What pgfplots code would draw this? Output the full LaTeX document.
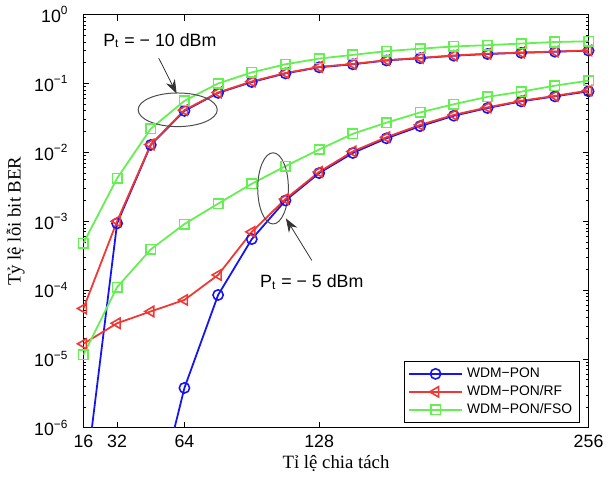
\documentclass[border=0pt]{standalone}
\usepackage{fontspec}
\setmainfont{Liberation Serif}
\newfontfamily\arial{Liberation Sans}
\usepackage{pgfplots}
\pgfplotsset{compat=1.18}
\usetikzlibrary{arrows.meta}
\definecolor{cblue}{RGB}{20,20,245}
\definecolor{cred}{RGB}{240,55,50}
\definecolor{cgreen}{RGB}{100,240,80}

\begin{document}
\begin{tikzpicture}
\begin{axis}[
  scale only axis,
  width=255.5pt,height=209pt,
  xmode=normal, ymode=log,
  xmin=16,xmax=256,
  ymin=1e-6,ymax=1,
  xtick={16,32,64,128,256},
  xticklabels={16,32,64,128,256},
  ytick={1e-6,1e-5,1e-4,1e-3,1e-2,1e-1,1},
  yticklabels={10\textsuperscript{−6},10\textsuperscript{−5},10\textsuperscript{−4},10\textsuperscript{−3},10\textsuperscript{−2},10\textsuperscript{−1},10\textsuperscript{0}},
  tick label style={font=\arial\fontsize{9}{10}\selectfont},
  yticklabel style={xshift=-4pt},
  major tick length=3pt,
  minor tick length=1.5pt,
  tick style={black,line width=0.4pt},
  axis line style={black,line width=0.5pt},
  xlabel={Tỉ lệ chia tách},
  ylabel={Tỷ lệ lỗi bit BER},
  label style={font=\fontsize{9.5}{11}\selectfont},
  xlabel style={yshift=3pt},
  ylabel style={yshift=-2pt},
  legend style={at={(rel axis cs:0.984,0.012)},anchor=south east,
    font=\arial\fontsize{7}{8}\selectfont,draw=black,line width=0.5pt,
    inner xsep=2pt,inner ysep=1pt,row sep=-1.4pt},
  legend cell align=left,
  legend image code/.code={\draw[mark repeat=2,mark phase=2,#1] plot coordinates {(0pt,0pt) (13.5pt,0pt) (27pt,0pt)};},
  every axis plot/.append style={line width=0.9pt},
]
% P_t = -10 dBm
\addplot[cblue,mark=o,mark size=2.6pt,mark options={line width=0.8pt}] coordinates {
  (16,1e-7) (32,9.3e-4) (48,0.0128) (64,0.040) (80,0.073) (96,0.105)
  (112,0.140) (128,0.172) (144,0.190) (160,0.216) (176,0.233) (192,0.253)
  (208,0.268) (224,0.279) (240,0.289) (256,0.300)
};
\addlegendentry{WDM−PON}
\addplot[cred,mark=triangle,mark size=3pt,mark options={rotate=90,line width=0.8pt}] coordinates {
  (16,5.4e-5) (32,1.0e-3) (48,0.013) (64,0.041) (80,0.074) (96,0.107)
  (112,0.142) (128,0.174) (144,0.192) (160,0.218) (176,0.235) (192,0.255)
  (208,0.270) (224,0.281) (240,0.291) (256,0.302)
};
\addlegendentry{WDM−PON/RF}
\addplot[cgreen,mark=square,mark size=2.4pt,mark options={line width=0.8pt}] coordinates {
  (16,4.8e-4) (32,4.2e-3) (48,0.022) (64,0.056) (80,0.100) (96,0.145)
  (112,0.190) (128,0.230) (144,0.260) (160,0.295) (176,0.320) (192,0.345)
  (208,0.360) (224,0.380) (240,0.400) (256,0.410)
};
\addlegendentry{WDM−PON/FSO}
% P_t = -5 dBm
\addplot[forget plot,cblue,mark=o,mark size=2.6pt,mark options={line width=0.8pt}] coordinates {
  (48,4e-8) (64,3.8e-6) (80,8.5e-5) (96,5.5e-4) (112,2.0e-3) (128,5.0e-3)
  (144,0.0098) (160,0.016) (176,0.024) (192,0.034) (208,0.044) (224,0.055)
  (240,0.065) (256,0.077)
};
\addplot[forget plot,cred,mark=triangle,mark size=3pt,mark options={rotate=90,line width=0.8pt}] coordinates {
  (16,1.66e-5) (32,3.3e-5) (48,4.9e-5) (64,7.2e-5) (80,1.66e-4) (96,7.0e-4)
  (112,2.1e-3) (128,5.2e-3) (144,0.0103) (160,0.0166) (176,0.025) (192,0.035)
  (208,0.045) (224,0.056) (240,0.066) (256,0.079)
};
\addplot[forget plot,cgreen,mark=square,mark size=2.4pt,mark options={line width=0.8pt}] coordinates {
  (16,1.15e-5) (32,1.1e-4) (48,3.9e-4) (64,9.1e-4) (80,1.8e-3) (96,3.5e-3)
  (112,6.3e-3) (128,0.011) (144,0.0186) (160,0.027) (176,0.038) (192,0.050)
  (208,0.064) (224,0.076) (240,0.093) (256,0.110)
};
% annotations
\draw[black!70,line width=0.5pt] (axis cs:60.8,0.0415) ellipse [x radius=20pt,y radius=8.5pt];
\draw[black!70,line width=0.5pt] (axis cs:106.1,3.0e-3) ellipse [x radius=7.75pt,y radius=18pt];
\draw[black!80,line width=0.4pt,-{Stealth[length=7pt,width=5pt]}] (axis cs:51.8,0.233) -- (axis cs:60.3,0.0713);
\draw[black!80,line width=0.4pt,-{Stealth[length=7pt,width=5pt]}] (axis cs:124.5,2.7e-4) -- (axis cs:112.2,1.1e-3);
\node[anchor=base,font=\arial\fontsize{9}{10}\selectfont,inner sep=0pt] at (axis cs:52.3,0.35) {P\textsubscript{t} = − 10 dBm};
\node[anchor=base,font=\arial\fontsize{9}{10}\selectfont,inner sep=0pt] at (axis cs:124.5,1.1e-4) {P\textsubscript{t} = − 5 dBm};
\end{axis}
\end{tikzpicture}
\end{document}
